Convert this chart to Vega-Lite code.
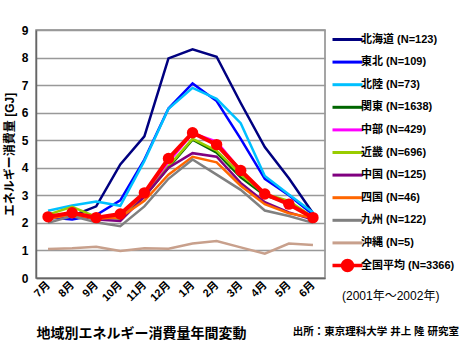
{
  "$schema": "https://vega.github.io/schema/vega-lite/v6.json",
  "width": 289,
  "height": 248,
  "padding": {"left": 3, "top": 24, "right": 0, "bottom": 0},
  "background": "white",
  "config": {
    "font": "Liberation Sans, Noto Sans CJK JP",
    "view": {"stroke": "#888", "strokeWidth": 1.5}
  },
  "title": {
    "text": "出所：東京理科大学 井上 隆 研究室",
    "orient": "bottom",
    "anchor": "end",
    "frame": "bounds",
    "fontSize": 10.5,
    "fontWeight": "bold",
    "color": "#000",
    "dy": -18
  },
  "data": {
    "values": [
      {"region": "北海道 (N=123)", "month": "7月", "gj": 2.15},
      {"region": "北海道 (N=123)", "month": "8月", "gj": 2.25},
      {"region": "北海道 (N=123)", "month": "9月", "gj": 2.6},
      {"region": "北海道 (N=123)", "month": "10月", "gj": 4.12},
      {"region": "北海道 (N=123)", "month": "11月", "gj": 5.14},
      {"region": "北海道 (N=123)", "month": "12月", "gj": 7.97},
      {"region": "北海道 (N=123)", "month": "1月", "gj": 8.3},
      {"region": "北海道 (N=123)", "month": "2月", "gj": 8.03},
      {"region": "北海道 (N=123)", "month": "3月", "gj": 6.35},
      {"region": "北海道 (N=123)", "month": "4月", "gj": 4.75},
      {"region": "北海道 (N=123)", "month": "5月", "gj": 3.62},
      {"region": "北海道 (N=123)", "month": "6月", "gj": 2.35},
      {"region": "東北 (N=109)", "month": "7月", "gj": 2.2},
      {"region": "東北 (N=109)", "month": "8月", "gj": 2.12},
      {"region": "東北 (N=109)", "month": "9月", "gj": 2.28},
      {"region": "東北 (N=109)", "month": "10月", "gj": 2.82},
      {"region": "東北 (N=109)", "month": "11月", "gj": 4.3},
      {"region": "東北 (N=109)", "month": "12月", "gj": 6.15},
      {"region": "東北 (N=109)", "month": "1月", "gj": 7.06},
      {"region": "東北 (N=109)", "month": "2月", "gj": 6.42},
      {"region": "東北 (N=109)", "month": "3月", "gj": 5.05},
      {"region": "東北 (N=109)", "month": "4月", "gj": 3.6},
      {"region": "東北 (N=109)", "month": "5月", "gj": 3.0},
      {"region": "東北 (N=109)", "month": "6月", "gj": 2.3},
      {"region": "北陸 (N=73)", "month": "7月", "gj": 2.44},
      {"region": "北陸 (N=73)", "month": "8月", "gj": 2.63},
      {"region": "北陸 (N=73)", "month": "9月", "gj": 2.78},
      {"region": "北陸 (N=73)", "month": "10月", "gj": 2.62},
      {"region": "北陸 (N=73)", "month": "11月", "gj": 4.25},
      {"region": "北陸 (N=73)", "month": "12月", "gj": 6.14},
      {"region": "北陸 (N=73)", "month": "1月", "gj": 6.9},
      {"region": "北陸 (N=73)", "month": "2月", "gj": 6.5},
      {"region": "北陸 (N=73)", "month": "3月", "gj": 5.62},
      {"region": "北陸 (N=73)", "month": "4月", "gj": 3.7},
      {"region": "北陸 (N=73)", "month": "5月", "gj": 3.03},
      {"region": "北陸 (N=73)", "month": "6月", "gj": 2.38},
      {"region": "関東 (N=1638)", "month": "7月", "gj": 2.2},
      {"region": "関東 (N=1638)", "month": "8月", "gj": 2.35},
      {"region": "関東 (N=1638)", "month": "9月", "gj": 2.2},
      {"region": "関東 (N=1638)", "month": "10月", "gj": 2.2},
      {"region": "関東 (N=1638)", "month": "11月", "gj": 2.95},
      {"region": "関東 (N=1638)", "month": "12月", "gj": 4.0},
      {"region": "関東 (N=1638)", "month": "1月", "gj": 5.02},
      {"region": "関東 (N=1638)", "month": "2月", "gj": 4.55},
      {"region": "関東 (N=1638)", "month": "3月", "gj": 3.65},
      {"region": "関東 (N=1638)", "month": "4月", "gj": 3.0},
      {"region": "関東 (N=1638)", "month": "5月", "gj": 2.72},
      {"region": "関東 (N=1638)", "month": "6月", "gj": 2.2},
      {"region": "中部 (N=429)", "month": "7月", "gj": 2.2},
      {"region": "中部 (N=429)", "month": "8月", "gj": 2.35},
      {"region": "中部 (N=429)", "month": "9月", "gj": 2.2},
      {"region": "中部 (N=429)", "month": "10月", "gj": 2.25},
      {"region": "中部 (N=429)", "month": "11月", "gj": 3.0},
      {"region": "中部 (N=429)", "month": "12月", "gj": 4.2},
      {"region": "中部 (N=429)", "month": "1月", "gj": 5.25},
      {"region": "中部 (N=429)", "month": "2月", "gj": 4.95},
      {"region": "中部 (N=429)", "month": "3月", "gj": 3.9},
      {"region": "中部 (N=429)", "month": "4月", "gj": 3.05},
      {"region": "中部 (N=429)", "month": "5月", "gj": 2.7},
      {"region": "中部 (N=429)", "month": "6月", "gj": 2.2},
      {"region": "近畿 (N=696)", "month": "7月", "gj": 2.3},
      {"region": "近畿 (N=696)", "month": "8月", "gj": 2.58},
      {"region": "近畿 (N=696)", "month": "9月", "gj": 2.22},
      {"region": "近畿 (N=696)", "month": "10月", "gj": 2.15},
      {"region": "近畿 (N=696)", "month": "11月", "gj": 2.95},
      {"region": "近畿 (N=696)", "month": "12月", "gj": 4.05},
      {"region": "近畿 (N=696)", "month": "1月", "gj": 5.05},
      {"region": "近畿 (N=696)", "month": "2月", "gj": 4.62},
      {"region": "近畿 (N=696)", "month": "3月", "gj": 3.75},
      {"region": "近畿 (N=696)", "month": "4月", "gj": 3.05},
      {"region": "近畿 (N=696)", "month": "5月", "gj": 2.8},
      {"region": "近畿 (N=696)", "month": "6月", "gj": 2.2},
      {"region": "中国 (N=125)", "month": "7月", "gj": 2.15},
      {"region": "中国 (N=125)", "month": "8月", "gj": 2.3},
      {"region": "中国 (N=125)", "month": "9月", "gj": 2.12},
      {"region": "中国 (N=125)", "month": "10月", "gj": 2.07},
      {"region": "中国 (N=125)", "month": "11月", "gj": 2.95},
      {"region": "中国 (N=125)", "month": "12月", "gj": 4.0},
      {"region": "中国 (N=125)", "month": "1月", "gj": 4.53},
      {"region": "中国 (N=125)", "month": "2月", "gj": 4.4},
      {"region": "中国 (N=125)", "month": "3月", "gj": 3.45},
      {"region": "中国 (N=125)", "month": "4月", "gj": 2.75},
      {"region": "中国 (N=125)", "month": "5月", "gj": 2.38},
      {"region": "中国 (N=125)", "month": "6月", "gj": 2.12},
      {"region": "四国 (N=46)", "month": "7月", "gj": 2.15},
      {"region": "四国 (N=46)", "month": "8月", "gj": 2.3},
      {"region": "四国 (N=46)", "month": "9月", "gj": 2.15},
      {"region": "四国 (N=46)", "month": "10月", "gj": 2.2},
      {"region": "四国 (N=46)", "month": "11月", "gj": 2.8},
      {"region": "四国 (N=46)", "month": "12月", "gj": 3.75},
      {"region": "四国 (N=46)", "month": "1月", "gj": 4.4},
      {"region": "四国 (N=46)", "month": "2月", "gj": 4.2},
      {"region": "四国 (N=46)", "month": "3月", "gj": 3.35},
      {"region": "四国 (N=46)", "month": "4月", "gj": 2.68},
      {"region": "四国 (N=46)", "month": "5月", "gj": 2.35},
      {"region": "四国 (N=46)", "month": "6月", "gj": 2.18},
      {"region": "九州 (N=122)", "month": "7月", "gj": 2.0},
      {"region": "九州 (N=122)", "month": "8月", "gj": 2.25},
      {"region": "九州 (N=122)", "month": "9月", "gj": 2.02},
      {"region": "九州 (N=122)", "month": "10月", "gj": 1.88},
      {"region": "九州 (N=122)", "month": "11月", "gj": 2.6},
      {"region": "九州 (N=122)", "month": "12月", "gj": 3.6},
      {"region": "九州 (N=122)", "month": "1月", "gj": 4.3},
      {"region": "九州 (N=122)", "month": "2月", "gj": 3.75},
      {"region": "九州 (N=122)", "month": "3月", "gj": 3.2},
      {"region": "九州 (N=122)", "month": "4月", "gj": 2.45},
      {"region": "九州 (N=122)", "month": "5月", "gj": 2.25},
      {"region": "九州 (N=122)", "month": "6月", "gj": 2.0},
      {"region": "沖縄 (N=5)", "month": "7月", "gj": 1.05},
      {"region": "沖縄 (N=5)", "month": "8月", "gj": 1.08},
      {"region": "沖縄 (N=5)", "month": "9月", "gj": 1.13},
      {"region": "沖縄 (N=5)", "month": "10月", "gj": 0.98},
      {"region": "沖縄 (N=5)", "month": "11月", "gj": 1.08},
      {"region": "沖縄 (N=5)", "month": "12月", "gj": 1.06},
      {"region": "沖縄 (N=5)", "month": "1月", "gj": 1.25},
      {"region": "沖縄 (N=5)", "month": "2月", "gj": 1.34},
      {"region": "沖縄 (N=5)", "month": "3月", "gj": 1.11},
      {"region": "沖縄 (N=5)", "month": "4月", "gj": 0.88},
      {"region": "沖縄 (N=5)", "month": "5月", "gj": 1.25},
      {"region": "沖縄 (N=5)", "month": "6月", "gj": 1.2},
      {"region": "全国平均 (N=3366)", "month": "7月", "gj": 2.22},
      {"region": "全国平均 (N=3366)", "month": "8月", "gj": 2.37},
      {"region": "全国平均 (N=3366)", "month": "9月", "gj": 2.19},
      {"region": "全国平均 (N=3366)", "month": "10月", "gj": 2.32},
      {"region": "全国平均 (N=3366)", "month": "11月", "gj": 3.09},
      {"region": "全国平均 (N=3366)", "month": "12月", "gj": 4.34},
      {"region": "全国平均 (N=3366)", "month": "1月", "gj": 5.27},
      {"region": "全国平均 (N=3366)", "month": "2月", "gj": 4.84},
      {"region": "全国平均 (N=3366)", "month": "3月", "gj": 3.9},
      {"region": "全国平均 (N=3366)", "month": "4月", "gj": 3.05},
      {"region": "全国平均 (N=3366)", "month": "5月", "gj": 2.68},
      {"region": "全国平均 (N=3366)", "month": "6月", "gj": 2.19}
    ]
  },
  "encoding": {
    "x": {
      "field": "month",
      "type": "ordinal",
      "sort": ["7月", "8月", "9月", "10月", "11月", "12月", "1月", "2月", "3月", "4月", "5月", "6月"],
      "scale": {"type": "point", "padding": 0.5},
      "axis": {
        "title": "地域別エネルギー消費量年間変動",
        "titleAnchor": "start",
        "titleFontSize": 14,
        "titleFontWeight": "bold",
        "titleColor": "#000",
        "titlePadding": 24,
        "labelAngle": -45,
        "labelAlign": "right",
        "labelBaseline": "middle",
        "labelFontSize": 11,
        "labelFontWeight": "bold",
        "labelColor": "#000",
        "labelPadding": 5,
        "ticks": false,
        "grid": false,
        "domainColor": "#666",
        "domainWidth": 1.5
      }
    },
    "y": {
      "field": "gj",
      "type": "quantitative",
      "scale": {"domain": [0, 9], "nice": false},
      "axis": {
        "title": "エネルギー消費量 [GJ]",
        "titleFontSize": 12,
        "titleFontWeight": "bold",
        "titleColor": "#000",
        "titlePadding": 5,
        "values": [0, 1, 2, 3, 4, 5, 6, 7, 8, 9],
        "labelFontSize": 12,
        "labelFontWeight": "bold",
        "labelColor": "#000",
        "labelPadding": 8,
        "ticks": false,
        "gridColor": "#999",
        "gridWidth": 1.5,
        "domainColor": "#666",
        "domainWidth": 1.5
      }
    },
    "color": {
      "field": "region",
      "type": "nominal",
      "sort": null,
      "scale": {
        "domain": ["北海道 (N=123)", "東北 (N=109)", "北陸 (N=73)", "関東 (N=1638)", "中部 (N=429)", "近畿 (N=696)", "中国 (N=125)", "四国 (N=46)", "九州 (N=122)", "沖縄 (N=5)", "全国平均 (N=3366)"],
        "range": ["#000080", "#0000ff", "#00c0ff", "#006600", "#ff00ff", "#99cc00", "#800080", "#ff6600", "#808080", "#c8a08c", "#ff0000"]
      },
      "legend": {
        "orient": "right",
        "offset": 13,
        "padding": 4,
        "title": "(2001年～2002年)",
        "titleOrient": "bottom",
        "titleFontSize": 12,
        "titleFontWeight": "normal",
        "titleColor": "#000",
        "titlePadding": 14,
        "labelFontSize": 11,
        "labelFontWeight": "bold",
        "labelColor": "#000",
        "labelOffset": 8,
        "symbolType": "stroke",
        "symbolSize": 400,
        "symbolStrokeWidth": 3,
        "symbolOpacity": 1,
        "gridAlign": "all",
        "rowPadding": -2.4,
        "encode": {
          "symbols": {
            "update": {
              "shape": {"signal": "datum.value === '全国平均 (N=3366)' ? 'M-1.5,0H1.5M0.5,0A0.5,0.5,0,1,1,-0.5,0A0.5,0.5,0,1,1,0.5,0' : 'M-1.5,0H1.5'"},
              "fill": {"signal": "datum.value === '全国平均 (N=3366)' ? '#ff0000' : 'transparent'"},
              "strokeWidth": {"signal": "datum.value === '全国平均 (N=3366)' ? 3.5 : 3"},
              "opacity": {"value": 1}
            }
          }
        }
      }
    }
  },
  "layer": [
    {
      "transform": [{"filter": "datum.region !== '全国平均 (N=3366)'"}],
      "mark": {"type": "line", "strokeWidth": 2.5}
    },
    {
      "transform": [{"filter": "datum.region === '全国平均 (N=3366)'"}],
      "mark": {"type": "line", "strokeWidth": 4}
    },
    {
      "transform": [{"filter": "datum.region === '全国平均 (N=3366)'"}],
      "mark": {"type": "point", "filled": true, "size": 130, "opacity": 1, "strokeWidth": 0}
    }
  ]
}
